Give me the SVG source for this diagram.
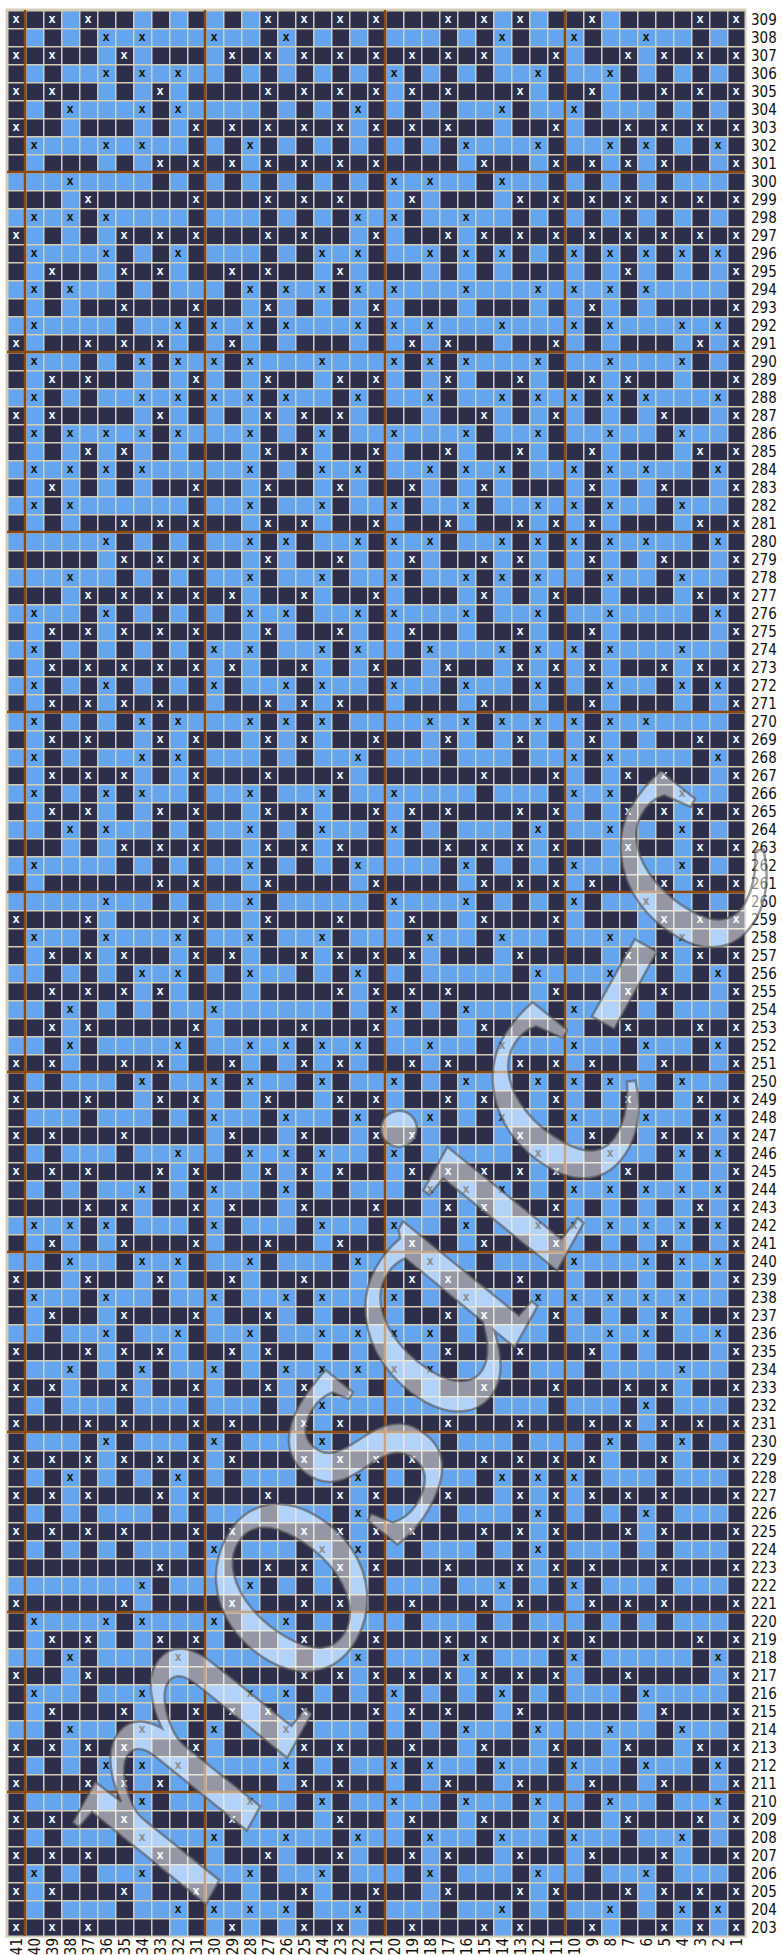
<svg xmlns="http://www.w3.org/2000/svg" width="782" height="1955" viewBox="0 0 782 1955">
<style>
.D{stroke:#2c2e4a;stroke-width:18;fill:none}
.L{stroke:#65a5ef;stroke-width:18;fill:none}
.td{fill:#ffffff}
.tl{fill:#111111}
.cells text{font-family:"Liberation Sans",Arial,sans-serif;font-size:12px;font-weight:bold;text-anchor:middle}
.lbl text{font-family:"Liberation Sans Narrow","DejaVu Sans Condensed","Roboto Condensed","Liberation Sans",sans-serif;font-size:15px;fill:#111}
.brown{stroke:#8c4a0e;stroke-width:2.5;fill:none}
.wm{font-family:"Liberation Serif",serif;font-style:italic;font-size:340px;fill:#ffffff;fill-opacity:0.5;stroke:#555555;stroke-opacity:0.6;stroke-width:2.5}
</style>
<defs>
<pattern id="rows" x="7" y="10" width="738" height="36" patternUnits="userSpaceOnUse"><rect width="738" height="18" fill="#2c2e4a"/><rect y="18" width="738" height="18" fill="#65a5ef"/></pattern>
<pattern id="grid" x="7" y="10" width="18" height="18" patternUnits="userSpaceOnUse"><path d="M0 0H18M0 0V18" stroke="#d3cdb6" stroke-width="3" fill="none"/></pattern>
<clipPath id="gc"><rect x="7" y="10" width="738" height="1926"/></clipPath>
</defs>
<rect width="782" height="1955" fill="#ffffff"/>
<rect x="7" y="10" width="738" height="1926" fill="url(#rows)"/>
<g class="cells" clip-path="url(#gc)">
<path class="L" d="M70 10v18M142 10v18M178 10v18M214 10v18M250 10v18M502 10v18M538 10v18M610 10v18"/>
<g transform="translate(0,10)"><path class="D" d="M16 0v36M52 0v36M88 0v36M268 0v36M304 0v36M340 0v36M376 0v36M448 0v36M484 0v36M520 0v36M592 0v36M700 0v36M736 0v36"/><text class="td" y="12.5" x="16 52 88 268 304 340 376 448 484 520 592 700 736">xxxxxxxxxxxxx</text></g>
<g transform="translate(0,28)"><path class="L" d="M106 0v36M142 0v36M214 0v36M286 0v36M502 0v36M574 0v36M646 0v36"/><text class="tl" y="12.5" x="106 142 214 286 502 574 646">xxxxxxx</text></g>
<g transform="translate(0,46)"><path class="D" d="M16 0v36M52 0v36M124 0v36M232 0v36M268 0v36M304 0v36M340 0v36M376 0v36M412 0v36M448 0v36M484 0v36M556 0v36M628 0v36M664 0v36M700 0v36M736 0v36"/><text class="td" y="12.5" x="16 52 124 232 268 304 340 376 412 448 484 556 628 664 700 736">xxxxxxxxxxxxxxxx</text></g>
<g transform="translate(0,64)"><path class="L" d="M106 0v36M142 0v36M178 0v36M394 0v36M538 0v36M610 0v36"/><text class="tl" y="12.5" x="106 142 178 394 538 610">xxxxxx</text></g>
<g transform="translate(0,82)"><path class="D" d="M16 0v36M52 0v36M160 0v36M268 0v36M304 0v36M340 0v36M376 0v36M412 0v36M448 0v36M520 0v36M592 0v36M664 0v36M700 0v36M736 0v36"/><text class="td" y="12.5" x="16 52 160 268 304 340 376 412 448 520 592 664 700 736">xxxxxxxxxxxxxx</text></g>
<g transform="translate(0,100)"><path class="L" d="M70 0v36M142 0v36M178 0v36M358 0v36M502 0v36M574 0v36"/><text class="tl" y="12.5" x="70 142 178 358 502 574">xxxxxx</text></g>
<g transform="translate(0,118)"><path class="D" d="M16 0v36M196 0v36M232 0v36M268 0v36M304 0v36M340 0v36M376 0v36M412 0v36M448 0v36M556 0v36M628 0v36M664 0v36M700 0v36M736 0v36"/><text class="td" y="12.5" x="16 196 232 268 304 340 376 412 448 556 628 664 700 736">xxxxxxxxxxxxxx</text></g>
<g transform="translate(0,136)"><path class="L" d="M34 0v36M106 0v36M142 0v36M250 0v36M466 0v36M538 0v36M610 0v36M646 0v36M718 0v36"/><text class="tl" y="12.5" x="34 106 142 250 466 538 610 646 718">xxxxxxxxx</text></g>
<g transform="translate(0,154)"><path class="D" d="M160 0v36M196 0v36M232 0v36M268 0v36M304 0v36M340 0v36M376 0v36M484 0v36M556 0v36M592 0v36M628 0v36M664 0v36M736 0v36"/><text class="td" y="12.5" x="160 196 232 268 304 340 376 484 556 592 628 664 736">xxxxxxxxxxxxx</text></g>
<g transform="translate(0,172)"><path class="L" d="M70 0v36M394 0v36M430 0v36M502 0v36"/><text class="tl" y="12.5" x="70 394 430 502">xxxx</text></g>
<g transform="translate(0,190)"><path class="D" d="M88 0v36M196 0v36M268 0v36M304 0v36M340 0v36M412 0v36M520 0v36M556 0v36M592 0v36M628 0v36M664 0v36M700 0v36M736 0v36"/><text class="td" y="12.5" x="88 196 268 304 340 412 520 556 592 628 664 700 736">xxxxxxxxxxxxx</text></g>
<g transform="translate(0,208)"><path class="L" d="M34 0v36M70 0v36M106 0v36M358 0v36M394 0v36M466 0v36"/><text class="tl" y="12.5" x="34 70 106 358 394 466">xxxxxx</text></g>
<g transform="translate(0,226)"><path class="D" d="M16 0v36M124 0v36M160 0v36M196 0v36M268 0v36M304 0v36M376 0v36M448 0v36M484 0v36M520 0v36M556 0v36M592 0v36M628 0v36M664 0v36M700 0v36M736 0v36"/><text class="td" y="12.5" x="16 124 160 196 268 304 376 448 484 520 556 592 628 664 700 736">xxxxxxxxxxxxxxxx</text></g>
<g transform="translate(0,244)"><path class="L" d="M34 0v36M106 0v36M178 0v36M322 0v36M358 0v36M430 0v36M466 0v36M502 0v36M574 0v36M610 0v36M646 0v36M682 0v36M718 0v36"/><text class="tl" y="12.5" x="34 106 178 322 358 430 466 502 574 610 646 682 718">xxxxxxxxxxxxx</text></g>
<g transform="translate(0,262)"><path class="D" d="M52 0v36M124 0v36M160 0v36M232 0v36M268 0v36M340 0v36M628 0v36M736 0v36"/><text class="td" y="12.5" x="52 124 160 232 268 340 628 736">xxxxxxxx</text></g>
<g transform="translate(0,280)"><path class="L" d="M34 0v36M70 0v36M250 0v36M286 0v36M322 0v36M358 0v36M394 0v36M466 0v36M538 0v36M574 0v36M610 0v36M646 0v36"/><text class="tl" y="12.5" x="34 70 250 286 322 358 394 466 538 574 610 646">xxxxxxxxxxxx</text></g>
<g transform="translate(0,298)"><path class="D" d="M124 0v36M196 0v36M268 0v36M376 0v36M592 0v36M736 0v36"/><text class="td" y="12.5" x="124 196 268 376 592 736">xxxxxx</text></g>
<g transform="translate(0,316)"><path class="L" d="M34 0v36M178 0v36M214 0v36M250 0v36M286 0v36M358 0v36M394 0v36M430 0v36M502 0v36M574 0v36M610 0v36M682 0v36M718 0v36"/><text class="tl" y="12.5" x="34 178 214 250 286 358 394 430 502 574 610 682 718">xxxxxxxxxxxxx</text></g>
<g transform="translate(0,334)"><path class="D" d="M16 0v36M88 0v36M124 0v36M160 0v36M232 0v36M412 0v36M448 0v36M556 0v36M700 0v36M736 0v36"/><text class="td" y="12.5" x="16 88 124 160 232 412 448 556 700 736">xxxxxxxxxx</text></g>
<g transform="translate(0,352)"><path class="L" d="M34 0v36M142 0v36M178 0v36M214 0v36M250 0v36M322 0v36M394 0v36M430 0v36M466 0v36M538 0v36M610 0v36M682 0v36"/><text class="tl" y="12.5" x="34 142 178 214 250 322 394 430 466 538 610 682">xxxxxxxxxxxx</text></g>
<g transform="translate(0,370)"><path class="D" d="M52 0v36M88 0v36M196 0v36M268 0v36M340 0v36M376 0v36M448 0v36M520 0v36M592 0v36M628 0v36M736 0v36"/><text class="td" y="12.5" x="52 88 196 268 340 376 448 520 592 628 736">xxxxxxxxxxx</text></g>
<g transform="translate(0,388)"><path class="L" d="M34 0v36M142 0v36M178 0v36M214 0v36M250 0v36M286 0v36M358 0v36M430 0v36M502 0v36M538 0v36M574 0v36M610 0v36M646 0v36M718 0v36"/><text class="tl" y="12.5" x="34 142 178 214 250 286 358 430 502 538 574 610 646 718">xxxxxxxxxxxxxx</text></g>
<g transform="translate(0,406)"><path class="D" d="M16 0v36M52 0v36M160 0v36M268 0v36M304 0v36M340 0v36M484 0v36M556 0v36M664 0v36M736 0v36"/><text class="td" y="12.5" x="16 52 160 268 304 340 484 556 664 736">xxxxxxxxxx</text></g>
<g transform="translate(0,424)"><path class="L" d="M34 0v36M70 0v36M106 0v36M142 0v36M178 0v36M250 0v36M322 0v36M394 0v36M466 0v36M538 0v36M610 0v36M682 0v36"/><text class="tl" y="12.5" x="34 70 106 142 178 250 322 394 466 538 610 682">xxxxxxxxxxxx</text></g>
<g transform="translate(0,442)"><path class="D" d="M88 0v36M124 0v36M268 0v36M304 0v36M376 0v36M448 0v36M520 0v36M592 0v36M700 0v36M736 0v36"/><text class="td" y="12.5" x="88 124 268 304 376 448 520 592 700 736">xxxxxxxxxx</text></g>
<g transform="translate(0,460)"><path class="L" d="M34 0v36M70 0v36M106 0v36M142 0v36M250 0v36M322 0v36M358 0v36M430 0v36M466 0v36M502 0v36M574 0v36M610 0v36M646 0v36M718 0v36"/><text class="tl" y="12.5" x="34 70 106 142 250 322 358 430 466 502 574 610 646 718">xxxxxxxxxxxxxx</text></g>
<g transform="translate(0,478)"><path class="D" d="M52 0v36M196 0v36M268 0v36M340 0v36M412 0v36M484 0v36M592 0v36M664 0v36M736 0v36"/><text class="td" y="12.5" x="52 196 268 340 412 484 592 664 736">xxxxxxxxx</text></g>
<g transform="translate(0,496)"><path class="L" d="M34 0v36M70 0v36M250 0v36M322 0v36M394 0v36M466 0v36M538 0v36M574 0v36M610 0v36M682 0v36"/><text class="tl" y="12.5" x="34 70 250 322 394 466 538 574 610 682">xxxxxxxxxx</text></g>
<g transform="translate(0,514)"><path class="D" d="M124 0v36M160 0v36M196 0v36M268 0v36M304 0v36M376 0v36M448 0v36M520 0v36M556 0v36M592 0v36M700 0v36M736 0v36"/><text class="td" y="12.5" x="124 160 196 268 304 376 448 520 556 592 700 736">xxxxxxxxxxxx</text></g>
<g transform="translate(0,532)"><path class="L" d="M106 0v36M250 0v36M286 0v36M358 0v36M394 0v36M430 0v36M502 0v36M538 0v36M574 0v36M610 0v36M646 0v36M718 0v36"/><text class="tl" y="12.5" x="106 250 286 358 394 430 502 538 574 610 646 718">xxxxxxxxxxxx</text></g>
<g transform="translate(0,550)"><path class="D" d="M124 0v36M160 0v36M196 0v36M268 0v36M340 0v36M412 0v36M484 0v36M520 0v36M592 0v36M664 0v36M736 0v36"/><text class="td" y="12.5" x="124 160 196 268 340 412 484 520 592 664 736">xxxxxxxxxxx</text></g>
<g transform="translate(0,568)"><path class="L" d="M70 0v36M250 0v36M322 0v36M394 0v36M466 0v36M502 0v36M538 0v36M610 0v36M682 0v36"/><text class="tl" y="12.5" x="70 250 322 394 466 502 538 610 682">xxxxxxxxx</text></g>
<g transform="translate(0,586)"><path class="D" d="M88 0v36M124 0v36M160 0v36M196 0v36M232 0v36M304 0v36M376 0v36M484 0v36M556 0v36M700 0v36M736 0v36"/><text class="td" y="12.5" x="88 124 160 196 232 304 376 484 556 700 736">xxxxxxxxxxx</text></g>
<g transform="translate(0,604)"><path class="L" d="M34 0v36M106 0v36M250 0v36M286 0v36M358 0v36M394 0v36M466 0v36M538 0v36M610 0v36M718 0v36"/><text class="tl" y="12.5" x="34 106 250 286 358 394 466 538 610 718">xxxxxxxxxx</text></g>
<g transform="translate(0,622)"><path class="D" d="M52 0v36M88 0v36M124 0v36M160 0v36M196 0v36M268 0v36M340 0v36M412 0v36M520 0v36M592 0v36M736 0v36"/><text class="td" y="12.5" x="52 88 124 160 196 268 340 412 520 592 736">xxxxxxxxxxx</text></g>
<g transform="translate(0,640)"><path class="L" d="M34 0v36M214 0v36M250 0v36M322 0v36M358 0v36M430 0v36M502 0v36M538 0v36M574 0v36M610 0v36M682 0v36"/><text class="tl" y="12.5" x="34 214 250 322 358 430 502 538 574 610 682">xxxxxxxxxxx</text></g>
<g transform="translate(0,658)"><path class="D" d="M52 0v36M88 0v36M124 0v36M160 0v36M196 0v36M232 0v36M304 0v36M376 0v36M448 0v36M520 0v36M556 0v36M592 0v36M664 0v36M700 0v36M736 0v36"/><text class="td" y="12.5" x="52 88 124 160 196 232 304 376 448 520 556 592 664 700 736">xxxxxxxxxxxxxxx</text></g>
<g transform="translate(0,676)"><path class="L" d="M34 0v36M106 0v36M214 0v36M286 0v36M322 0v36M394 0v36M466 0v36M538 0v36M610 0v36M682 0v36M718 0v36"/><text class="tl" y="12.5" x="34 106 214 286 322 394 466 538 610 682 718">xxxxxxxxxxx</text></g>
<g transform="translate(0,694)"><path class="D" d="M52 0v36M88 0v36M124 0v36M160 0v36M268 0v36M304 0v36M340 0v36M484 0v36M592 0v36M736 0v36"/><text class="td" y="12.5" x="52 88 124 160 268 304 340 484 592 736">xxxxxxxxxx</text></g>
<g transform="translate(0,712)"><path class="L" d="M34 0v36M142 0v36M178 0v36M250 0v36M286 0v36M322 0v36M430 0v36M466 0v36M502 0v36M538 0v36M574 0v36M610 0v36M646 0v36"/><text class="tl" y="12.5" x="34 142 178 250 286 322 430 466 502 538 574 610 646">xxxxxxxxxxxxx</text></g>
<g transform="translate(0,730)"><path class="D" d="M52 0v36M88 0v36M160 0v36M196 0v36M268 0v36M304 0v36M376 0v36M448 0v36M520 0v36M592 0v36M700 0v36M736 0v36"/><text class="td" y="12.5" x="52 88 160 196 268 304 376 448 520 592 700 736">xxxxxxxxxxxx</text></g>
<g transform="translate(0,748)"><path class="L" d="M34 0v36M142 0v36M178 0v36M358 0v36M574 0v36M610 0v36M718 0v36"/><text class="tl" y="12.5" x="34 142 178 358 574 610 718">xxxxxxx</text></g>
<g transform="translate(0,766)"><path class="D" d="M52 0v36M88 0v36M124 0v36M196 0v36M268 0v36M340 0v36M484 0v36M556 0v36M628 0v36M664 0v36M736 0v36"/><text class="td" y="12.5" x="52 88 124 196 268 340 484 556 628 664 736">xxxxxxxxxxx</text></g>
<g transform="translate(0,784)"><path class="L" d="M34 0v36M106 0v36M142 0v36M250 0v36M322 0v36M394 0v36M574 0v36M610 0v36M682 0v36"/><text class="tl" y="12.5" x="34 106 142 250 322 394 574 610 682">xxxxxxxxx</text></g>
<g transform="translate(0,802)"><path class="D" d="M52 0v36M88 0v36M160 0v36M196 0v36M268 0v36M304 0v36M376 0v36M412 0v36M448 0v36M520 0v36M556 0v36M628 0v36M664 0v36M700 0v36M736 0v36"/><text class="td" y="12.5" x="52 88 160 196 268 304 376 412 448 520 556 628 664 700 736">xxxxxxxxxxxxxxx</text></g>
<g transform="translate(0,820)"><path class="L" d="M70 0v36M106 0v36M250 0v36M322 0v36M394 0v36M538 0v36M610 0v36M682 0v36"/><text class="tl" y="12.5" x="70 106 250 322 394 538 610 682">xxxxxxxx</text></g>
<g transform="translate(0,838)"><path class="D" d="M124 0v36M160 0v36M196 0v36M268 0v36M304 0v36M340 0v36M448 0v36M484 0v36M520 0v36M556 0v36M628 0v36M700 0v36M736 0v36"/><text class="td" y="12.5" x="124 160 196 268 304 340 448 484 520 556 628 700 736">xxxxxxxxxxxxx</text></g>
<g transform="translate(0,856)"><path class="L" d="M34 0v36M250 0v36M358 0v36M466 0v36M574 0v36M682 0v36"/><text class="tl" y="12.5" x="34 250 358 466 574 682">xxxxxx</text></g>
<g transform="translate(0,874)"><path class="D" d="M160 0v36M196 0v36M268 0v36M376 0v36M484 0v36M520 0v36M556 0v36M592 0v36M664 0v36M700 0v36M736 0v36"/><text class="td" y="12.5" x="160 196 268 376 484 520 556 592 664 700 736">xxxxxxxxxxx</text></g>
<g transform="translate(0,892)"><path class="L" d="M106 0v36M250 0v36M394 0v36M466 0v36M574 0v36M646 0v36"/><text class="tl" y="12.5" x="106 250 394 466 574 646">xxxxxx</text></g>
<g transform="translate(0,910)"><path class="D" d="M16 0v36M88 0v36M196 0v36M268 0v36M340 0v36M412 0v36M484 0v36M556 0v36M664 0v36M700 0v36M736 0v36"/><text class="td" y="12.5" x="16 88 196 268 340 412 484 556 664 700 736">xxxxxxxxxxx</text></g>
<g transform="translate(0,928)"><path class="L" d="M34 0v36M106 0v36M178 0v36M250 0v36M322 0v36M430 0v36M502 0v36M610 0v36M682 0v36"/><text class="tl" y="12.5" x="34 106 178 250 322 430 502 610 682">xxxxxxxxx</text></g>
<g transform="translate(0,946)"><path class="D" d="M52 0v36M88 0v36M124 0v36M196 0v36M232 0v36M304 0v36M340 0v36M376 0v36M412 0v36M520 0v36M628 0v36M664 0v36M700 0v36M736 0v36"/><text class="td" y="12.5" x="52 88 124 196 232 304 340 376 412 520 628 664 700 736">xxxxxxxxxxxxxx</text></g>
<g transform="translate(0,964)"><path class="L" d="M142 0v36M178 0v36M250 0v36M358 0v36M538 0v36M610 0v36M718 0v36"/><text class="tl" y="12.5" x="142 178 250 358 538 610 718">xxxxxxx</text></g>
<g transform="translate(0,982)"><path class="D" d="M52 0v36M88 0v36M124 0v36M160 0v36M340 0v36M376 0v36M412 0v36M448 0v36M556 0v36M628 0v36M664 0v36M736 0v36"/><text class="td" y="12.5" x="52 88 124 160 340 376 412 448 556 628 664 736">xxxxxxxxxxxx</text></g>
<g transform="translate(0,1000)"><path class="L" d="M70 0v36M214 0v36M394 0v36M466 0v36M574 0v36"/><text class="tl" y="12.5" x="70 214 394 466 574">xxxxx</text></g>
<g transform="translate(0,1018)"><path class="D" d="M52 0v36M88 0v36M196 0v36M304 0v36M376 0v36M484 0v36M628 0v36M700 0v36M736 0v36"/><text class="td" y="12.5" x="52 88 196 304 376 484 628 700 736">xxxxxxxxx</text></g>
<g transform="translate(0,1036)"><path class="L" d="M70 0v36M178 0v36M250 0v36M286 0v36M322 0v36M358 0v36M430 0v36M502 0v36M574 0v36M646 0v36M718 0v36"/><text class="tl" y="12.5" x="70 178 250 286 322 358 430 502 574 646 718">xxxxxxxxxxx</text></g>
<g transform="translate(0,1054)"><path class="D" d="M16 0v36M52 0v36M124 0v36M160 0v36M232 0v36M304 0v36M340 0v36M412 0v36M448 0v36M520 0v36M556 0v36M592 0v36M664 0v36M736 0v36"/><text class="td" y="12.5" x="16 52 124 160 232 304 340 412 448 520 556 592 664 736">xxxxxxxxxxxxxx</text></g>
<g transform="translate(0,1072)"><path class="L" d="M142 0v36M214 0v36M250 0v36M322 0v36M394 0v36M466 0v36M538 0v36M574 0v36M610 0v36M682 0v36"/><text class="tl" y="12.5" x="142 214 250 322 394 466 538 574 610 682">xxxxxxxxxx</text></g>
<g transform="translate(0,1090)"><path class="D" d="M16 0v36M88 0v36M160 0v36M196 0v36M268 0v36M340 0v36M376 0v36M448 0v36M484 0v36M556 0v36M628 0v36M700 0v36M736 0v36"/><text class="td" y="12.5" x="16 88 160 196 268 340 376 448 484 556 628 700 736">xxxxxxxxxxxxx</text></g>
<g transform="translate(0,1108)"><path class="L" d="M214 0v36M286 0v36M358 0v36M430 0v36M502 0v36M574 0v36M646 0v36M718 0v36"/><text class="tl" y="12.5" x="214 286 358 430 502 574 646 718">xxxxxxxx</text></g>
<g transform="translate(0,1126)"><path class="D" d="M16 0v36M52 0v36M124 0v36M232 0v36M304 0v36M376 0v36M412 0v36M520 0v36M592 0v36M664 0v36M700 0v36M736 0v36"/><text class="td" y="12.5" x="16 52 124 232 304 376 412 520 592 664 700 736">xxxxxxxxxxxx</text></g>
<g transform="translate(0,1144)"><path class="L" d="M178 0v36M250 0v36M286 0v36M322 0v36M394 0v36M538 0v36M610 0v36M682 0v36M718 0v36"/><text class="tl" y="12.5" x="178 250 286 322 394 538 610 682 718">xxxxxxxxx</text></g>
<g transform="translate(0,1162)"><path class="D" d="M16 0v36M52 0v36M88 0v36M160 0v36M196 0v36M268 0v36M304 0v36M340 0v36M412 0v36M448 0v36M484 0v36M520 0v36M556 0v36M628 0v36M736 0v36"/><text class="td" y="12.5" x="16 52 88 160 196 268 304 340 412 448 484 520 556 628 736">xxxxxxxxxxxxxxx</text></g>
<g transform="translate(0,1180)"><path class="L" d="M142 0v36M214 0v36M286 0v36M430 0v36M466 0v36M502 0v36M574 0v36M610 0v36M646 0v36M682 0v36M718 0v36"/><text class="tl" y="12.5" x="142 214 286 430 466 502 574 610 646 682 718">xxxxxxxxxxx</text></g>
<g transform="translate(0,1198)"><path class="D" d="M88 0v36M124 0v36M196 0v36M232 0v36M304 0v36M376 0v36M448 0v36M484 0v36M556 0v36M700 0v36M736 0v36"/><text class="td" y="12.5" x="88 124 196 232 304 376 448 484 556 700 736">xxxxxxxxxxx</text></g>
<g transform="translate(0,1216)"><path class="L" d="M34 0v36M70 0v36M106 0v36M214 0v36M322 0v36M394 0v36M466 0v36M538 0v36M574 0v36M610 0v36M646 0v36M682 0v36M718 0v36"/><text class="tl" y="12.5" x="34 70 106 214 322 394 466 538 574 610 646 682 718">xxxxxxxxxxxxx</text></g>
<g transform="translate(0,1234)"><path class="D" d="M52 0v36M124 0v36M196 0v36M268 0v36M340 0v36M412 0v36M484 0v36M556 0v36M664 0v36M736 0v36"/><text class="td" y="12.5" x="52 124 196 268 340 412 484 556 664 736">xxxxxxxxxx</text></g>
<g transform="translate(0,1252)"><path class="L" d="M70 0v36M142 0v36M178 0v36M250 0v36M358 0v36M430 0v36M574 0v36M646 0v36M682 0v36M718 0v36"/><text class="tl" y="12.5" x="70 142 178 250 358 430 574 646 682 718">xxxxxxxxxx</text></g>
<g transform="translate(0,1270)"><path class="D" d="M16 0v36M88 0v36M160 0v36M232 0v36M304 0v36M412 0v36M448 0v36M520 0v36M736 0v36"/><text class="td" y="12.5" x="16 88 160 232 304 412 448 520 736">xxxxxxxxx</text></g>
<g transform="translate(0,1288)"><path class="L" d="M34 0v36M106 0v36M214 0v36M286 0v36M322 0v36M394 0v36M466 0v36M538 0v36M574 0v36M610 0v36M646 0v36M682 0v36"/><text class="tl" y="12.5" x="34 106 214 286 322 394 466 538 574 610 646 682">xxxxxxxxxxxx</text></g>
<g transform="translate(0,1306)"><path class="D" d="M52 0v36M124 0v36M196 0v36M268 0v36M448 0v36M484 0v36M556 0v36M664 0v36M736 0v36"/><text class="td" y="12.5" x="52 124 196 268 448 484 556 664 736">xxxxxxxxx</text></g>
<g transform="translate(0,1324)"><path class="L" d="M106 0v36M178 0v36M250 0v36M322 0v36M358 0v36M394 0v36M430 0v36M610 0v36M646 0v36M718 0v36"/><text class="tl" y="12.5" x="106 178 250 322 358 394 430 610 646 718">xxxxxxxxxx</text></g>
<g transform="translate(0,1342)"><path class="D" d="M16 0v36M88 0v36M124 0v36M160 0v36M232 0v36M268 0v36M448 0v36M520 0v36M592 0v36M736 0v36"/><text class="td" y="12.5" x="16 88 124 160 232 268 448 520 592 736">xxxxxxxxxx</text></g>
<g transform="translate(0,1360)"><path class="L" d="M70 0v36M142 0v36M214 0v36M286 0v36M322 0v36M358 0v36M394 0v36M430 0v36M682 0v36"/><text class="tl" y="12.5" x="70 142 214 286 322 358 394 430 682">xxxxxxxxx</text></g>
<g transform="translate(0,1378)"><path class="D" d="M16 0v36M52 0v36M124 0v36M196 0v36M268 0v36M304 0v36M484 0v36M556 0v36M628 0v36M664 0v36M736 0v36"/><text class="td" y="12.5" x="16 52 124 196 268 304 484 556 628 664 736">xxxxxxxxxxx</text></g>
<g transform="translate(0,1396)"><path class="L" d="M322 0v36M646 0v36"/><text class="tl" y="12.5" x="322 646">xx</text></g>
<g transform="translate(0,1414)"><path class="D" d="M16 0v36M88 0v36M124 0v36M196 0v36M232 0v36M304 0v36M340 0v36M448 0v36M520 0v36M592 0v36M628 0v36M664 0v36M700 0v36M736 0v36"/><text class="td" y="12.5" x="16 88 124 196 232 304 340 448 520 592 628 664 700 736">xxxxxxxxxxxxxx</text></g>
<g transform="translate(0,1432)"><path class="L" d="M106 0v36M214 0v36M322 0v36M610 0v36M682 0v36"/><text class="tl" y="12.5" x="106 214 322 610 682">xxxxx</text></g>
<g transform="translate(0,1450)"><path class="D" d="M16 0v36M52 0v36M88 0v36M124 0v36M160 0v36M196 0v36M232 0v36M304 0v36M340 0v36M376 0v36M412 0v36M484 0v36M520 0v36M556 0v36M592 0v36M664 0v36M736 0v36"/><text class="td" y="12.5" x="16 52 88 124 160 196 232 304 340 376 412 484 520 556 592 664 736">xxxxxxxxxxxxxxxxx</text></g>
<g transform="translate(0,1468)"><path class="L" d="M70 0v36M178 0v36M358 0v36M502 0v36M538 0v36M574 0v36"/><text class="tl" y="12.5" x="70 178 358 502 538 574">xxxxxx</text></g>
<g transform="translate(0,1486)"><path class="D" d="M16 0v36M52 0v36M88 0v36M160 0v36M196 0v36M268 0v36M340 0v36M376 0v36M448 0v36M520 0v36M556 0v36M592 0v36M628 0v36M664 0v36M736 0v36"/><text class="td" y="12.5" x="16 52 88 160 196 268 340 376 448 520 556 592 628 664 736">xxxxxxxxxxxxxxx</text></g>
<g transform="translate(0,1504)"><path class="L" d="M358 0v36M538 0v36M646 0v36"/><text class="tl" y="12.5" x="358 538 646">xxx</text></g>
<g transform="translate(0,1522)"><path class="D" d="M16 0v36M52 0v36M88 0v36M124 0v36M196 0v36M232 0v36M304 0v36M340 0v36M376 0v36M412 0v36M484 0v36M520 0v36M556 0v36M628 0v36M664 0v36M736 0v36"/><text class="td" y="12.5" x="16 52 88 124 196 232 304 340 376 412 484 520 556 628 664 736">xxxxxxxxxxxxxxxx</text></g>
<g transform="translate(0,1540)"><path class="L" d="M214 0v36M322 0v36M358 0v36M538 0v36"/><text class="tl" y="12.5" x="214 322 358 538">xxxx</text></g>
<g transform="translate(0,1558)"><path class="D" d="M160 0v36M268 0v36M304 0v36M340 0v36M376 0v36M448 0v36M520 0v36M556 0v36M592 0v36M664 0v36M736 0v36"/><text class="td" y="12.5" x="160 268 304 340 376 448 520 556 592 664 736">xxxxxxxxxxx</text></g>
<g transform="translate(0,1576)"><path class="L" d="M142 0v36M250 0v36M502 0v36M574 0v36"/><text class="tl" y="12.5" x="142 250 502 574">xxxx</text></g>
<g transform="translate(0,1594)"><path class="D" d="M16 0v36M124 0v36M232 0v36M304 0v36M340 0v36M412 0v36M484 0v36M520 0v36M592 0v36M628 0v36M664 0v36M736 0v36"/><text class="td" y="12.5" x="16 124 232 304 340 412 484 520 592 628 664 736">xxxxxxxxxxxx</text></g>
<g transform="translate(0,1612)"><path class="L" d="M34 0v36M106 0v36M142 0v36M214 0v36M286 0v36"/><text class="tl" y="12.5" x="34 106 142 214 286">xxxxx</text></g>
<g transform="translate(0,1630)"><path class="D" d="M52 0v36M88 0v36M160 0v36M196 0v36M304 0v36M376 0v36M448 0v36M484 0v36M556 0v36M592 0v36M700 0v36M736 0v36"/><text class="td" y="12.5" x="52 88 160 196 304 376 448 484 556 592 700 736">xxxxxxxxxxxx</text></g>
<g transform="translate(0,1648)"><path class="L" d="M70 0v36M178 0v36M358 0v36M466 0v36M574 0v36M718 0v36"/><text class="tl" y="12.5" x="70 178 358 466 574 718">xxxxxx</text></g>
<g transform="translate(0,1666)"><path class="D" d="M16 0v36M88 0v36M304 0v36M340 0v36M376 0v36M412 0v36M448 0v36M484 0v36M520 0v36M556 0v36M628 0v36M736 0v36"/><text class="td" y="12.5" x="16 88 304 340 376 412 448 484 520 556 628 736">xxxxxxxxxxxx</text></g>
<g transform="translate(0,1684)"><path class="L" d="M34 0v36M142 0v36M250 0v36M286 0v36M394 0v36M502 0v36M646 0v36"/><text class="tl" y="12.5" x="34 142 250 286 394 502 646">xxxxxxx</text></g>
<g transform="translate(0,1702)"><path class="D" d="M52 0v36M124 0v36M196 0v36M232 0v36M268 0v36M304 0v36M376 0v36M412 0v36M448 0v36M520 0v36M664 0v36M736 0v36"/><text class="td" y="12.5" x="52 124 196 232 268 304 376 412 448 520 664 736">xxxxxxxxxxxx</text></g>
<g transform="translate(0,1720)"><path class="L" d="M70 0v36M142 0v36M214 0v36M286 0v36M466 0v36M538 0v36M610 0v36M682 0v36"/><text class="tl" y="12.5" x="70 142 214 286 466 538 610 682">xxxxxxxx</text></g>
<g transform="translate(0,1738)"><path class="D" d="M16 0v36M52 0v36M88 0v36M124 0v36M196 0v36M304 0v36M340 0v36M412 0v36M484 0v36M556 0v36M628 0v36M700 0v36M736 0v36"/><text class="td" y="12.5" x="16 52 88 124 196 304 340 412 484 556 628 700 736">xxxxxxxxxxxxx</text></g>
<g transform="translate(0,1756)"><path class="L" d="M106 0v36M142 0v36M178 0v36M286 0v36M394 0v36M430 0v36M502 0v36M574 0v36M646 0v36M718 0v36"/><text class="tl" y="12.5" x="106 142 178 286 394 430 502 574 646 718">xxxxxxxxxx</text></g>
<g transform="translate(0,1774)"><path class="D" d="M16 0v36M88 0v36M124 0v36M160 0v36M304 0v36M340 0v36M448 0v36M520 0v36M592 0v36M664 0v36M736 0v36"/><text class="td" y="12.5" x="16 88 124 160 304 340 448 520 592 664 736">xxxxxxxxxxx</text></g>
<g transform="translate(0,1792)"><path class="L" d="M142 0v36M250 0v36M322 0v36M394 0v36M466 0v36M538 0v36M610 0v36M718 0v36"/><text class="tl" y="12.5" x="142 250 322 394 466 538 610 718">xxxxxxxx</text></g>
<g transform="translate(0,1810)"><path class="D" d="M16 0v36M52 0v36M124 0v36M232 0v36M340 0v36M412 0v36M484 0v36M556 0v36M628 0v36M700 0v36M736 0v36"/><text class="td" y="12.5" x="16 52 124 232 340 412 484 556 628 700 736">xxxxxxxxxxx</text></g>
<g transform="translate(0,1828)"><path class="L" d="M142 0v36M214 0v36M286 0v36M358 0v36M430 0v36M502 0v36M574 0v36M682 0v36"/><text class="tl" y="12.5" x="142 214 286 358 430 502 574 682">xxxxxxxx</text></g>
<g transform="translate(0,1846)"><path class="D" d="M16 0v36M52 0v36M88 0v36M160 0v36M268 0v36M340 0v36M412 0v36M448 0v36M520 0v36M592 0v36M664 0v36M736 0v36"/><text class="td" y="12.5" x="16 52 88 160 268 340 412 448 520 592 664 736">xxxxxxxxxxxx</text></g>
<g transform="translate(0,1864)"><path class="L" d="M34 0v36M142 0v36M250 0v36M322 0v36M430 0v36M538 0v36M646 0v36"/><text class="tl" y="12.5" x="34 142 250 322 430 538 646">xxxxxxx</text></g>
<g transform="translate(0,1882)"><path class="D" d="M16 0v36M52 0v36M124 0v36M196 0v36M304 0v36M376 0v36M448 0v36M520 0v36M556 0v36M628 0v36M664 0v36M700 0v36M736 0v36"/><text class="td" y="12.5" x="16 52 124 196 304 376 448 520 556 628 664 700 736">xxxxxxxxxxxxx</text></g>
<g transform="translate(0,1900)"><path class="L" d="M178 0v36M214 0v36M250 0v36M286 0v36M358 0v36M502 0v36M610 0v36M682 0v36M718 0v36"/><text class="tl" y="12.5" x="178 214 250 286 358 502 610 682 718">xxxxxxxxx</text></g>
<g transform="translate(0,1918)"><path class="D" d="M16 0v36M52 0v36M88 0v36M232 0v36M304 0v36M340 0v36M412 0v36M484 0v36M520 0v36M592 0v36M664 0v36M700 0v36M736 0v36"/><text class="td" y="12.5" x="16 52 88 232 304 340 412 484 520 592 664 700 736">xxxxxxxxxxxxx</text></g>
</g>
<rect x="7" y="10" width="738" height="1926" fill="url(#grid)"/>
<rect x="6.5" y="9.5" width="739" height="1927" fill="none" stroke="#d3cdb6" stroke-width="2"/>
<path class="brown" d="M25 10V1936M205 10V1936M385 10V1936M565 10V1936M7 172H745M7 352H745M7 532H745M7 712H745M7 892H745M7 1072H745M7 1252H745M7 1432H745M7 1612H745M7 1792H745"/>
<g class="lbl">
<text x="751" y="24.5">309</text><text x="751" y="42.5">308</text><text x="751" y="60.5">307</text><text x="751" y="78.5">306</text><text x="751" y="96.5">305</text><text x="751" y="114.5">304</text><text x="751" y="132.5">303</text><text x="751" y="150.5">302</text><text x="751" y="168.5">301</text><text x="751" y="186.5">300</text>
<text x="751" y="204.5">299</text><text x="751" y="222.5">298</text><text x="751" y="240.5">297</text><text x="751" y="258.5">296</text><text x="751" y="276.5">295</text><text x="751" y="294.5">294</text><text x="751" y="312.5">293</text><text x="751" y="330.5">292</text><text x="751" y="348.5">291</text><text x="751" y="366.5">290</text>
<text x="751" y="384.5">289</text><text x="751" y="402.5">288</text><text x="751" y="420.5">287</text><text x="751" y="438.5">286</text><text x="751" y="456.5">285</text><text x="751" y="474.5">284</text><text x="751" y="492.5">283</text><text x="751" y="510.5">282</text><text x="751" y="528.5">281</text><text x="751" y="546.5">280</text>
<text x="751" y="564.5">279</text><text x="751" y="582.5">278</text><text x="751" y="600.5">277</text><text x="751" y="618.5">276</text><text x="751" y="636.5">275</text><text x="751" y="654.5">274</text><text x="751" y="672.5">273</text><text x="751" y="690.5">272</text><text x="751" y="708.5">271</text><text x="751" y="726.5">270</text>
<text x="751" y="744.5">269</text><text x="751" y="762.5">268</text><text x="751" y="780.5">267</text><text x="751" y="798.5">266</text><text x="751" y="816.5">265</text><text x="751" y="834.5">264</text><text x="751" y="852.5">263</text><text x="751" y="870.5">262</text><text x="751" y="888.5">261</text><text x="751" y="906.5">260</text>
<text x="751" y="924.5">259</text><text x="751" y="942.5">258</text><text x="751" y="960.5">257</text><text x="751" y="978.5">256</text><text x="751" y="996.5">255</text><text x="751" y="1014.5">254</text><text x="751" y="1032.5">253</text><text x="751" y="1050.5">252</text><text x="751" y="1068.5">251</text><text x="751" y="1086.5">250</text>
<text x="751" y="1104.5">249</text><text x="751" y="1122.5">248</text><text x="751" y="1140.5">247</text><text x="751" y="1158.5">246</text><text x="751" y="1176.5">245</text><text x="751" y="1194.5">244</text><text x="751" y="1212.5">243</text><text x="751" y="1230.5">242</text><text x="751" y="1248.5">241</text><text x="751" y="1266.5">240</text>
<text x="751" y="1284.5">239</text><text x="751" y="1302.5">238</text><text x="751" y="1320.5">237</text><text x="751" y="1338.5">236</text><text x="751" y="1356.5">235</text><text x="751" y="1374.5">234</text><text x="751" y="1392.5">233</text><text x="751" y="1410.5">232</text><text x="751" y="1428.5">231</text><text x="751" y="1446.5">230</text>
<text x="751" y="1464.5">229</text><text x="751" y="1482.5">228</text><text x="751" y="1500.5">227</text><text x="751" y="1518.5">226</text><text x="751" y="1536.5">225</text><text x="751" y="1554.5">224</text><text x="751" y="1572.5">223</text><text x="751" y="1590.5">222</text><text x="751" y="1608.5">221</text><text x="751" y="1626.5">220</text>
<text x="751" y="1644.5">219</text><text x="751" y="1662.5">218</text><text x="751" y="1680.5">217</text><text x="751" y="1698.5">216</text><text x="751" y="1716.5">215</text><text x="751" y="1734.5">214</text><text x="751" y="1752.5">213</text><text x="751" y="1770.5">212</text><text x="751" y="1788.5">211</text><text x="751" y="1806.5">210</text>
<text x="751" y="1824.5">209</text><text x="751" y="1842.5">208</text><text x="751" y="1860.5">207</text><text x="751" y="1878.5">206</text><text x="751" y="1896.5">205</text><text x="751" y="1914.5">204</text><text x="751" y="1932.5">203</text>
</g>
<g class="lbl" text-anchor="end">
<text transform="translate(21.5,1938) rotate(-90)">41</text><text transform="translate(39.5,1938) rotate(-90)">40</text><text transform="translate(57.5,1938) rotate(-90)">39</text><text transform="translate(75.5,1938) rotate(-90)">38</text><text transform="translate(93.5,1938) rotate(-90)">37</text><text transform="translate(111.5,1938) rotate(-90)">36</text><text transform="translate(129.5,1938) rotate(-90)">35</text><text transform="translate(147.5,1938) rotate(-90)">34</text><text transform="translate(165.5,1938) rotate(-90)">33</text><text transform="translate(183.5,1938) rotate(-90)">32</text>
<text transform="translate(201.5,1938) rotate(-90)">31</text><text transform="translate(219.5,1938) rotate(-90)">30</text><text transform="translate(237.5,1938) rotate(-90)">29</text><text transform="translate(255.5,1938) rotate(-90)">28</text><text transform="translate(273.5,1938) rotate(-90)">27</text><text transform="translate(291.5,1938) rotate(-90)">26</text><text transform="translate(309.5,1938) rotate(-90)">25</text><text transform="translate(327.5,1938) rotate(-90)">24</text><text transform="translate(345.5,1938) rotate(-90)">23</text><text transform="translate(363.5,1938) rotate(-90)">22</text>
<text transform="translate(381.5,1938) rotate(-90)">21</text><text transform="translate(399.5,1938) rotate(-90)">20</text><text transform="translate(417.5,1938) rotate(-90)">19</text><text transform="translate(435.5,1938) rotate(-90)">18</text><text transform="translate(453.5,1938) rotate(-90)">17</text><text transform="translate(471.5,1938) rotate(-90)">16</text><text transform="translate(489.5,1938) rotate(-90)">15</text><text transform="translate(507.5,1938) rotate(-90)">14</text><text transform="translate(525.5,1938) rotate(-90)">13</text><text transform="translate(543.5,1938) rotate(-90)">12</text>
<text transform="translate(561.5,1938) rotate(-90)">11</text><text transform="translate(579.5,1938) rotate(-90)">10</text><text transform="translate(597.5,1938) rotate(-90)">9</text><text transform="translate(615.5,1938) rotate(-90)">8</text><text transform="translate(633.5,1938) rotate(-90)">7</text><text transform="translate(651.5,1938) rotate(-90)">6</text><text transform="translate(669.5,1938) rotate(-90)">5</text><text transform="translate(687.5,1938) rotate(-90)">4</text><text transform="translate(705.5,1938) rotate(-90)">3</text><text transform="translate(723.5,1938) rotate(-90)">2</text>
<text transform="translate(741.5,1938) rotate(-90)">1</text>
</g>
<text class="wm" transform="translate(200,1915) rotate(-61)">mosaic-c</text>
</svg>
